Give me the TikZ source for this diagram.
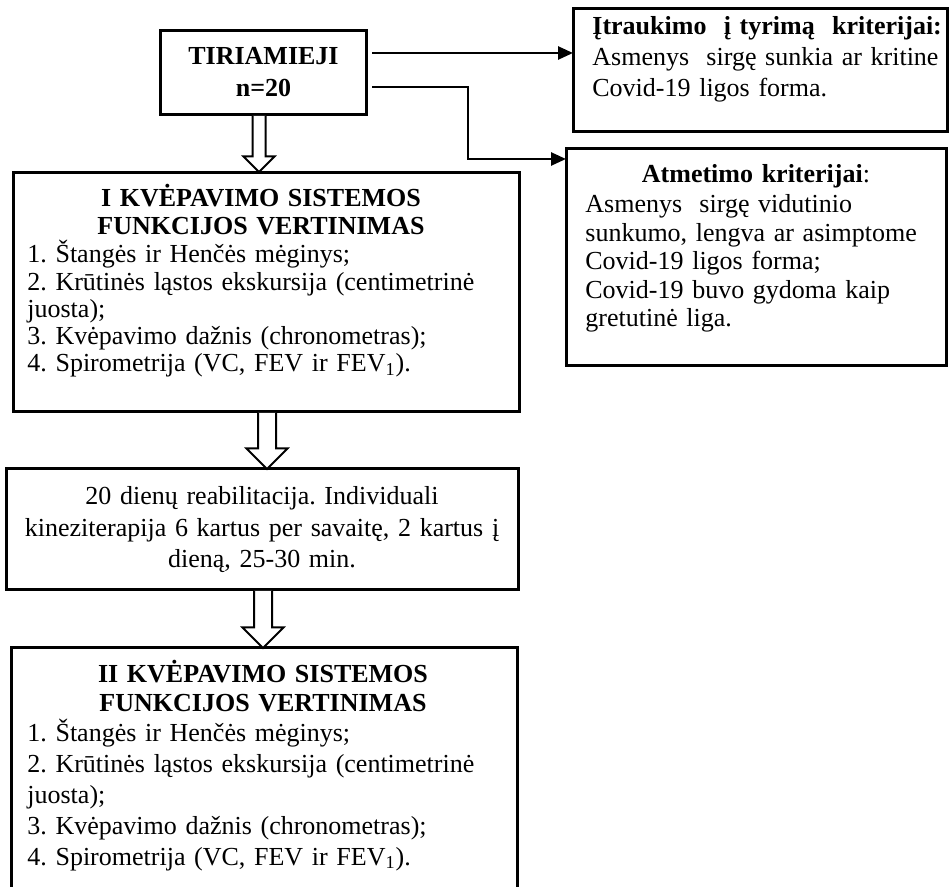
\documentclass[tikz,border=0pt]{standalone}
\usepackage{fontspec}
\setmainfont{Liberation Serif}
\usetikzlibrary{arrows.meta,calc}

\begin{document}
\frenchspacing
\begin{tikzpicture}[
    x=0.5pt, y=-0.5pt,
    box/.style={draw,line width=1.5pt,anchor=north west,inner sep=0pt,outer sep=0pt},
    head/.style={anchor=base,inner sep=0pt,align=center,text width=240pt,font=\bfseries\fontsize{13}{#1}\selectfont},
    body/.style={anchor=base west,inner sep=0pt,align=left,text width=240pt,font=\fontsize{13}{#1}\selectfont},
    link/.style={line width=1.3pt,-{Triangle[length=7.5pt,width=6.5pt]}},
    hollow/.style={draw,line width=1pt,line join=miter,fill=white}
    ]
    \useasboundingbox (0,0) rectangle (949,887);
    \clip (0,0) rectangle (949,887);
    % boxes
    \node[box,minimum width=103pt,minimum height=42pt] (tiri) at (160,31) {};
    \node[box,minimum width=187pt,minimum height=61.5pt] (inc) at (573,9) {};
    \node[box,minimum width=190pt,minimum height=108.5pt] (exc) at (566,149) {};
    \node[box,minimum width=253pt,minimum height=119.5pt] (eval1) at (13,173) {};
    \node[box,minimum width=256pt,minimum height=60.5pt] (rehab) at (6,469) {};
    \node[box,minimum width=253pt,minimum height=150pt] (eval2) at (11,648) {};
    % texts
    \node[head=16pt,text width=100pt] (tiriT) at (263.5,65) {TIRIAMIEJI\\n=20};
    \node[anchor=base west,inner sep=0pt,text width=175pt,font=\fontsize{13}{15.5}\selectfont] (incT) at (592,35)
      {\textbf{Įtraukimo\ \ į tyrimą\ \ kriterijai:}\linebreak Asmenys\ \ sirgę sunkia ar kritine\linebreak Covid-19 ligos forma.};
    \node[head=14.25pt,text width=185pt] (excT) at (756,183) {Atmetimo kriterijai\mdseries:};
    \node[body=14.25pt,text width=175pt] (excB) at (585,213)
      {Asmenys\ \ sirgę vidutinio\\ sunkumo, lengva ar asimptome\\ Covid-19 ligos forma;\\ Covid-19 buvo gydoma kaip\\ gretutinė liga.};
    \node[head=14pt] (eval1T) at (261,207) {I KVĖPAVIMO SISTEMOS\\FUNKCIJOS VERTINIMAS};
    \node[body=13.6pt] (eval1B) at (27,263)
      {1. Štangės ir Henčės mėginys;\\ 2. Krūtinės ląstos ekskursija (centimetrinė\\ juosta);\\
       3. Kvėpavimo dažnis (chronometras);\\ 4. Spirometrija (VC, FEV ir FEV\textsubscript{1}).};
    \node[head=15.75pt,font=\mdseries\fontsize{13}{15.75}\selectfont,text width=250pt] (rehabT) at (262,505)
      {20 dienų reabilitacija. Individuali\\ kineziterapija 6 kartus per savaitę, 2 kartus į\\ dieną, 25-30 min.};
    \node[head=14.5pt] (eval2T) at (263,683) {II KVĖPAVIMO SISTEMOS\\FUNKCIJOS VERTINIMAS};
    \node[body=15.4pt] (eval2B) at (27,742)
      {1. Štangės ir Henčės mėginys;\\ 2. Krūtinės ląstos ekskursija (centimetrinė\\ juosta);\\
       3. Kvėpavimo dažnis (chronometras);\\ 4. Spirometrija (VC, FEV ir FEV\textsubscript{1}).};
    % hollow arrows (x, top, tip, half shaft, half head)
    \foreach \cx/\yt/\yb/\s/\h in {259/116/172/6.5/15.5, 267/413/469/9/20.5, 263/591/648/9/20.5} {
        \draw[hollow] ({\cx-\s},\yt) -- ({\cx-\s},{\yb-\h}) -- ({\cx-\h},{\yb-\h}) -- (\cx,\yb)
          -- ({\cx+\h},{\yb-\h}) -- ({\cx+\s},{\yb-\h}) -- ({\cx+\s},\yt);
    }
    % criteria links
    \coordinate (o1) at ($(tiri.east)+(6,-20)$);
    \coordinate (o2) at ($(tiri.east)+(6,14)$);
    \coordinate (c2) at (468,159);
    \draw[link] (o1) -- (o1 -| inc.west);
    \draw[link] (o2) -| (c2) -- (c2 -| exc.west);
\end{tikzpicture}
\end{document}
